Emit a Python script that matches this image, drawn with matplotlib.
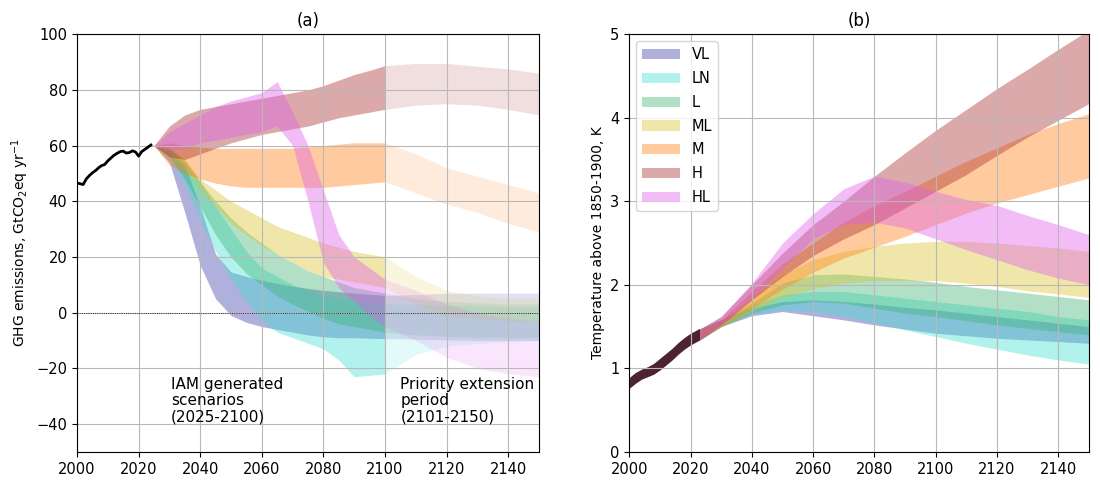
import numpy as np
import matplotlib
matplotlib.use('Agg')
import matplotlib.pyplot as plt
from matplotlib.patches import Patch

plt.rcParams['font.family'] = ['DejaVu Sans']
plt.rcParams['font.size'] = 11

scenarios = ['VL', 'LN', 'L', 'ML', 'M', 'H', 'HL']
colors = ['#3a3aac', 'turquoise', 'mediumseagreen', '#dac12b', '#ff7f0e', 'brown', '#e05ced']

# ---- panel (a): historical GHG emissions ----
hist_years = list(range(2000, 2025))
hist_emis = [46.5, 46.3, 46.0, 48.0, 49.2, 50.2, 51.0, 52.0, 52.8, 53.2, 54.5, 55.5, 56.5,
             57.2, 57.8, 58.0, 57.3, 57.5, 58.1, 57.7, 56.2, 57.8, 58.6, 59.4, 60.2]

# IAM period (2025-2100)
iam_years = [2025, 2030, 2035, 2040, 2045, 2050, 2055, 2060, 2065, 2070, 2075, 2080, 2085, 2090, 2095, 2100]
emis_lo = {
    'VL': [60, 54, 36, 17, 5, -1.0, -3.5, -5, -6, -7, -8, -8.7, -9, -9, -9.2, -9.3],
    'LN': [60, 56, 46, 33, 22, 12, 4, -3, -7, -9, -11, -13, -17, -23, -22.5, -22],
    'L':  [60, 56, 48, 38, 28, 20, 14, 10, 6, 3, 0.5, -2, -4, -5, -6, -7],
    'ML': [60, 57, 52, 44, 38, 32, 28, 24, 21, 18, 15, 13, 12, 11, 10, 9],
    'M':  [60, 53, 50, 48, 46.5, 45.5, 45, 45, 45, 45, 45, 45, 45.5, 46, 46.5, 47],
    'H':  [60, 56, 55, 57, 59, 61, 62.5, 64, 65, 66, 67, 68.5, 70, 71, 72, 73],
    'HL': [60, 58, 59, 61, 62, 63, 64, 65, 67, 60, 40, 18, 9, 4, -1, -5],
}
emis_hi = {
    'VL': [60, 58, 53, 38, 21, 14.6, 13, 11.6, 10.5, 9.5, 8.7, 8, 7.5, 7, 6.6, 6.2],
    'LN': [60, 59, 55, 47, 38, 30, 22, 16, 13, 10, 8, 6, 5, 4, 3.5, 3],
    'L':  [60, 59, 54, 47, 40, 34, 29, 25, 21, 18, 15, 13, 11, 9, 8, 7],
    'ML': [60, 59, 55, 48, 44, 40, 37, 34, 31, 29, 27, 25, 23.5, 22, 21, 20],
    'M':  [60, 61, 60, 59.5, 59, 59, 59, 59, 59, 59, 59.5, 60, 60.5, 61, 61, 61],
    'H':  [60, 67, 71, 73, 74, 75, 76, 77, 78, 79, 80, 81.5, 83.5, 85.5, 87, 88.7],
    'HL': [60, 65, 68, 71, 74, 76, 77.5, 79, 83, 72, 60, 44, 28, 20, 16, 12],
}

# Priority extension period (2101-2150)
ext_years = [2100, 2110, 2120, 2130, 2140, 2150]
ext_lo = {
    'VL': [-9.3, -9.5, -9.8, -10, -10, -10],
    'LN': [-22, -15, -12, -11, -10.5, -10],
    'L':  [-7, -8, -8.5, -9, -9, -9],
    'ML': [9, 3, -1, -2, -3, -3],
    'M':  [47, 43, 39, 36, 32, 29],
    'H':  [73, 74.5, 75, 74.5, 73, 71],
    'HL': [-5, -10, -16, -20, -22, -23],
}
ext_hi = {
    'VL': [6.2, 6.5, 7, 7, 7, 7],
    'LN': [3, 3, 2.5, 2.5, 2, 2],
    'L':  [7, 5, 4, 3.5, 3, 3],
    'ML': [20, 13, 8, 6, 5, 5],
    'M':  [61, 57, 52, 49, 46, 43],
    'H':  [88.7, 89.5, 89.5, 88.5, 87.5, 86],
    'HL': [12, 8, 3, 0, -2, -3],
}

# ---- panel (b): temperature ----
temp_hist_years = [2000, 2002, 2004, 2006, 2008, 2010, 2012, 2014, 2016, 2018, 2020, 2022, 2023]
temp_hist_lo = [0.76, 0.82, 0.87, 0.9, 0.93, 0.98, 1.04, 1.1, 1.17, 1.23, 1.28, 1.32, 1.34]
temp_hist_hi = [0.89, 0.95, 0.99, 1.02, 1.06, 1.12, 1.18, 1.24, 1.31, 1.37, 1.42, 1.46, 1.48]

temp_years = [2023, 2030, 2040, 2050, 2060, 2070, 2080, 2090, 2100, 2110, 2120, 2130, 2140, 2150]
temp_lo = {
    'VL': [1.34, 1.5, 1.63, 1.68, 1.63, 1.58, 1.52, 1.47, 1.42, 1.39, 1.36, 1.34, 1.32, 1.3],
    'LN': [1.34, 1.5, 1.65, 1.7, 1.68, 1.62, 1.55, 1.46, 1.38, 1.3, 1.23, 1.16, 1.1, 1.05],
    'L':  [1.34, 1.5, 1.66, 1.76, 1.8, 1.78, 1.72, 1.66, 1.62, 1.57, 1.52, 1.48, 1.44, 1.4],
    'ML': [1.34, 1.5, 1.68, 1.85, 1.95, 2.02, 2.05, 2.05, 2.05, 2.02, 1.98, 1.93, 1.89, 1.85],
    'M':  [1.34, 1.5, 1.72, 1.95, 2.15, 2.32, 2.45, 2.58, 2.72, 2.86, 2.98, 3.08, 3.18, 3.28],
    'H':  [1.34, 1.52, 1.82, 2.1, 2.35, 2.55, 2.72, 2.92, 3.12, 3.32, 3.55, 3.77, 3.97, 4.17],
    'HL': [1.34, 1.52, 1.82, 2.2, 2.55, 2.72, 2.75, 2.68, 2.55, 2.42, 2.3, 2.18, 2.08, 2.0],
}
temp_hi = {
    'VL': [1.47, 1.58, 1.72, 1.8, 1.82, 1.8, 1.77, 1.73, 1.7, 1.66, 1.62, 1.58, 1.54, 1.5],
    'LN': [1.47, 1.58, 1.75, 1.88, 1.92, 1.92, 1.88, 1.84, 1.8, 1.76, 1.72, 1.68, 1.62, 1.58],
    'L':  [1.47, 1.58, 1.78, 2.02, 2.12, 2.13, 2.1, 2.07, 2.03, 1.98, 1.94, 1.9, 1.86, 1.82],
    'ML': [1.47, 1.57, 1.85, 2.12, 2.3, 2.4, 2.46, 2.5, 2.52, 2.52, 2.5, 2.47, 2.44, 2.4],
    'M':  [1.47, 1.58, 1.92, 2.25, 2.5, 2.75, 2.95, 3.12, 3.3, 3.48, 3.64, 3.8, 3.93, 4.05],
    'H':  [1.47, 1.62, 2.0, 2.38, 2.72, 3.0, 3.3, 3.58, 3.85, 4.1, 4.35, 4.58, 4.82, 5.05],
    'HL': [1.47, 1.62, 2.02, 2.5, 2.85, 3.15, 3.3, 3.23, 3.12, 3.02, 2.95, 2.83, 2.72, 2.6],
}

fig = plt.figure(figsize=(11, 4.88), dpi=100)
ax1 = fig.add_axes([0.070, 0.074, 0.420, 0.856])
ax2 = fig.add_axes([0.572, 0.074, 0.418, 0.856])

# panel (a)
for name, col in zip(scenarios, colors):
    ax1.fill_between(iam_years, emis_lo[name], emis_hi[name], color=col, alpha=0.4, lw=0)
    ax1.fill_between(ext_years, ext_lo[name], ext_hi[name], color=col, alpha=0.15, lw=0)
ax1.plot(hist_years, hist_emis, color='black', lw=2)
ax1.axhline(0, color='black', lw=0.6, ls=':')
ax1.set_xlim(2000, 2150)
ax1.set_ylim(-50, 100)
ax1.set_xticks(range(2000, 2150, 20))
ax1.set_yticks(range(-40, 101, 20))
ax1.grid(True, color='#b8b8b8', lw=0.8)
ax1.tick_params(labelsize=10.5)
ax1.set_ylabel('GHG emissions, GtCO$_2$eq yr$^{-1}$', fontsize=10)
ax1.set_title('(a)', fontsize=12)
ax1.text(2030.5, -23, 'IAM generated\nscenarios\n(2025-2100)', va='top', ha='left',
         fontsize=11, linespacing=1.1)
ax1.text(2105, -23, 'Priority extension\nperiod\n(2101-2150)', va='top', ha='left',
         fontsize=11, linespacing=1.1)

# panel (b)
ax2.fill_between(temp_hist_years, temp_hist_lo, temp_hist_hi, color='#4e2330', lw=0)
for name, col in zip(scenarios, colors):
    ax2.fill_between(temp_years, temp_lo[name], temp_hi[name], color=col, alpha=0.4, lw=0)
ax2.set_xlim(2000, 2150)
ax2.set_ylim(0, 5)
ax2.set_xticks(range(2000, 2150, 20))
ax2.set_yticks(range(0, 6))
ax2.grid(True, color='#b8b8b8', lw=0.8)
ax2.tick_params(labelsize=10.5)
ax2.set_ylabel('Temperature above 1850-1900, K', fontsize=10)
ax2.set_title('(b)', fontsize=12)
handles = [Patch(facecolor=c, alpha=0.4, lw=0) for c in colors]
ax2.legend(handles, scenarios, loc='upper left', fontsize=10.5, handlelength=2.6,
           labelspacing=0.6)

fig.savefig('out.png', dpi=100)
